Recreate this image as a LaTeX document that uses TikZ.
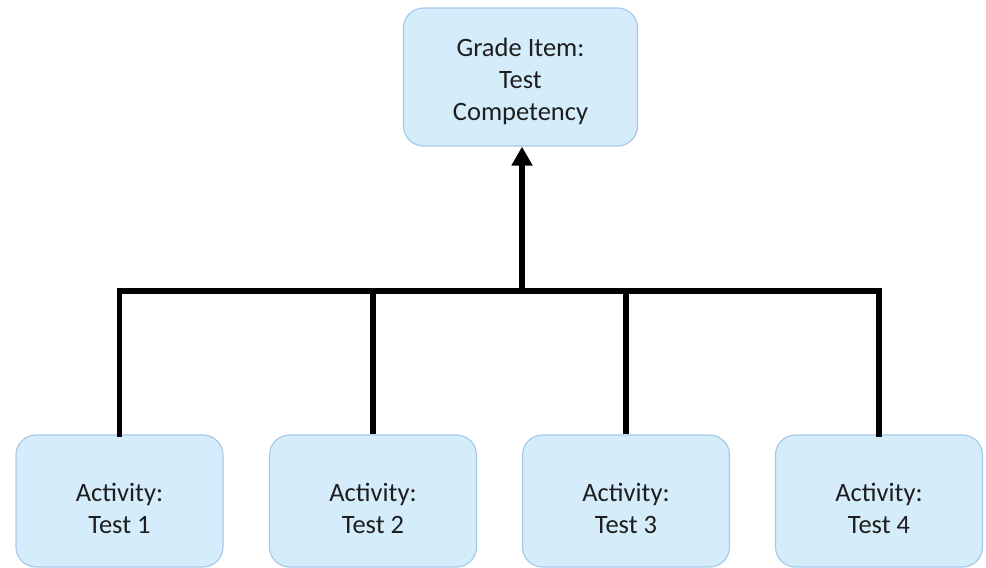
\documentclass[tikz,border=0pt]{standalone}
\usepackage{fontspec}
\setmainfont{Carlito}
\usetikzlibrary{arrows.meta}
\definecolor{boxfill}{RGB}{213,236,251}
\definecolor{boxdraw}{RGB}{165,203,232}
\definecolor{txt}{RGB}{30,30,30}
\tikzset{
  gbox/.style={draw=boxdraw, line width=1.2pt, fill=boxfill, rounded corners=20pt, text=txt, inner sep=0pt},
  lbl/.style={align=center, text=txt, font=\fontsize{26.5}{32}\selectfont, inner sep=0pt},
  conn/.style={line width=5.5pt, black},
}
\begin{document}
\begin{tikzpicture}[x=1pt,y=-1pt]
\useasboundingbox (0,0) rectangle (986,568);
\node[gbox, minimum width=234pt, minimum height=138pt] (top) at (520.5,77) {};
\node[lbl] (toptxt) at (520.5,81) {Grade Item:\\Test\\Competency};
\node[gbox, minimum width=207pt, minimum height=132pt] (a1) at (119.5,501) {};
\node[gbox, minimum width=207pt, minimum height=132pt] (a2) at (373,501) {};
\node[gbox, minimum width=207pt, minimum height=132pt] (a3) at (626,501) {};
\node[gbox, minimum width=207pt, minimum height=132pt] (a4) at (879,501) {};
\node[lbl] (t1) at (119.5,508) {Activity:\\Test 1};
\node[lbl] (t2) at (373,508) {Activity:\\Test 2};
\node[lbl] (t3) at (626,508) {Activity:\\Test 3};
\node[lbl] (t4) at (879,508) {Activity:\\Test 4};
\coordinate (j) at (522,291);
\draw[conn, line cap=rect] (a1.north) |- (a4.north |- j) -- (a4.north);
\draw[conn] (a2.north) -- (a2.north |- j);
\draw[conn] (a3.north) -- (a3.north |- j);
\draw[conn, -{Triangle[length=19pt,width=20pt]}] (j) -- (j |- top.south);
\end{tikzpicture}
\end{document}
